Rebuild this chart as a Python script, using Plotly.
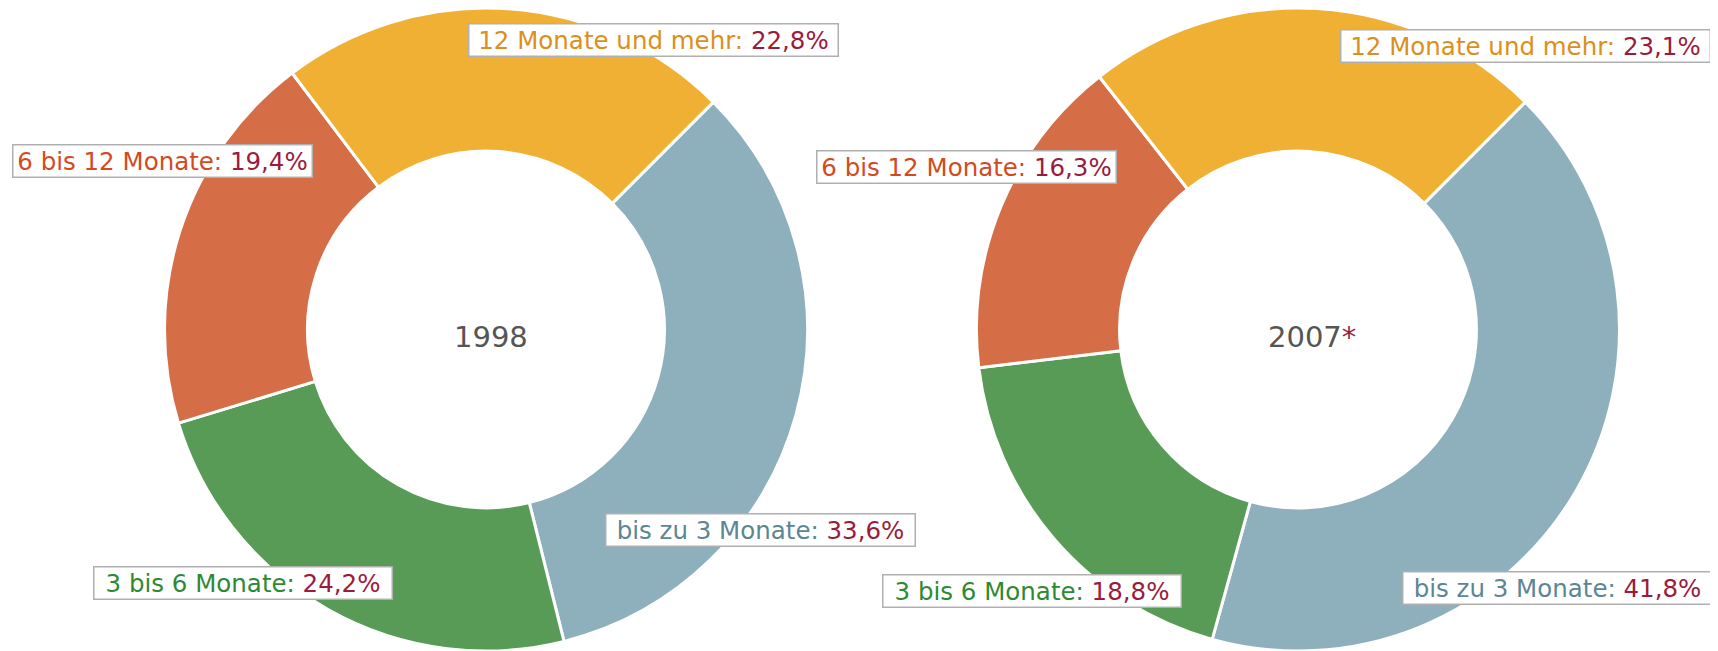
import plotly.graph_objects as go

categories = ["bis zu 3 Monate", "3 bis 6 Monate", "6 bis 12 Monate", "12 Monate und mehr"]
values_1998 = [33.6, 24.2, 19.4, 22.8]
values_2007 = [41.8, 18.8, 16.3, 23.1]
years = ["1998", "2007"]

slice_colors = ["#8eb0bc", "#579b56", "#d56d46", "#f0b034"]
label_colors = ["#5b8794", "#2e8a32", "#d34a1e", "#dc8f1a"]
value_color = "#9b1b3c"
box_widths = [306, 295, 296, 366]

OFF = 8  # default page body margin
W, H = 1718 - OFF, 651 - OFF

def px_x(x):
    return (x - OFF) / W

def px_y(y):
    return 1 - (y - OFF) / H

fig = go.Figure()
domains = [[px_x(164), px_x(808)], [px_x(976), px_x(1620)]]
for vals, dom in zip([values_1998, values_2007], domains):
    fig.add_trace(go.Pie(
        labels=categories, values=vals, sort=False, direction="clockwise",
        rotation=45, hole=0.555, textinfo="none", hoverinfo="label+percent",
        marker=dict(colors=slice_colors, line=dict(color="white", width=3)),
        domain=dict(x=dom, y=[px_y(651), px_y(8)]), showlegend=False,
    ))

# label box centers (pixels in the page)
label_pos = [
    [(760, 530), (243, 583), (162, 161), (653, 40)],
    [(1557, 588), (1032, 591), (966, 167), (1525, 46)],
]

def fmt(v):
    return f"{v:.1f}".replace(".", ",") + "%"

annotations = []
for vals, positions in zip([values_1998, values_2007], label_pos):
    for cat, v, col, bw, (px, py) in zip(categories, vals, label_colors, box_widths, positions):
        annotations.append(dict(
            x=px_x(px), y=px_y(py), xref="paper", yref="paper",
            xanchor="center", yanchor="middle", showarrow=False,
            text=f"<span style='color:{col}'>{cat}: </span><span style='color:{value_color}'>{fmt(v)}</span>",
            font=dict(family="DejaVu Sans, Verdana, sans-serif", size=24.5),
            width=bw, align="center",
            bgcolor="white", bordercolor="#b0b0b0", borderwidth=1.5, borderpad=1,
        ))

center_pos = [(491, 337), (1312, 337)]
center_texts = [years[0], f"{years[1]}<span style='color:{value_color}'>*</span>"]
for t, (px, py) in zip(center_texts, center_pos):
    annotations.append(dict(
        x=px_x(px), y=px_y(py), xref="paper", yref="paper",
        xanchor="center", yanchor="middle", showarrow=False, text=t,
        font=dict(family="DejaVu Sans, Verdana, sans-serif", size=29, color="#555555"),
    ))

fig.update_layout(
    width=W, height=H, margin=dict(l=0, r=0, t=0, b=0),
    paper_bgcolor="white", plot_bgcolor="white",
    annotations=annotations,
)

fig.write_html("out.html")
